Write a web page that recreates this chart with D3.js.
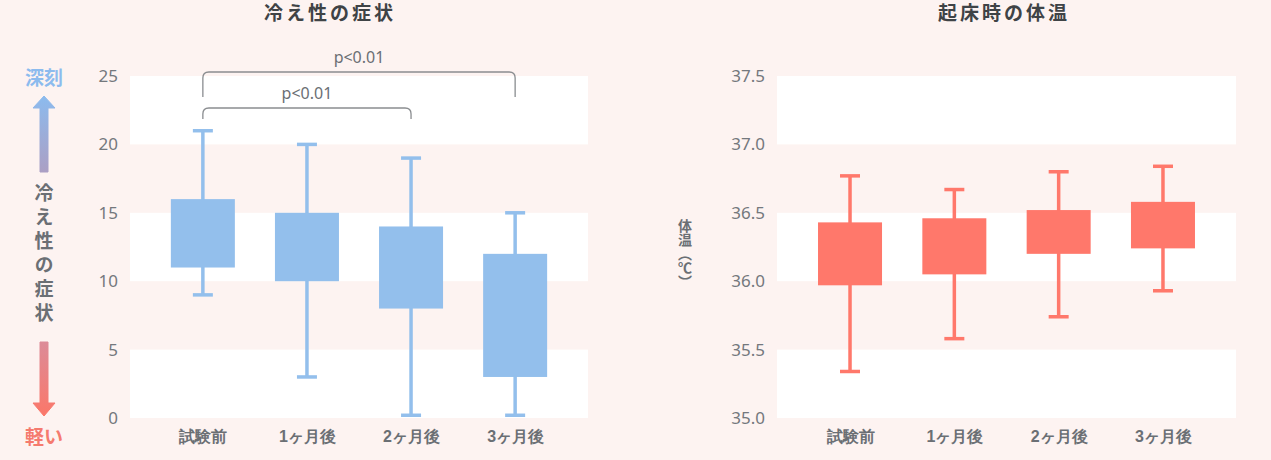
<!DOCTYPE html>
<html>
<head>
<meta charset="utf-8">
<script src="https://cdn.jsdelivr.net/npm/d3@7"></script>
<style>
  body { margin: 0; background: #fdf3f1; }
  svg { display: block; font-family: "Noto Sans CJK JP", "Noto Sans", sans-serif; }
</style>
</head>
<body>
<div id="chart"></div>
<script>
// Categories (x axis)
const categories = ["試験前", "1ヶ月後", "2ヶ月後", "3ヶ月後"];

// Left chart: cold symptom score (whisker low, box low, box high, whisker high)
const symptomLow    = [9, 3, 0.2, 0.2];
const symptomQ1     = [11, 10, 8, 3];
const symptomQ3     = [16, 15, 14, 12];
const symptomHigh   = [21, 20, 19, 15];
const symptomTicks  = [0, 5, 10, 15, 20, 25];

// Right chart: waking body temperature
const tempLow   = [35.34, 35.58, 35.74, 35.93];
const tempQ1    = [35.97, 36.05, 36.20, 36.24];
const tempQ3    = [36.43, 36.46, 36.52, 36.58];
const tempHigh  = [36.77, 36.67, 36.80, 36.84];
const tempTicks = [35.0, 35.5, 36.0, 36.5, 37.0, 37.5];

// Significance brackets (from index, to index, label)
const brackets = [
    { from: 0, to: 3, label: "p<0.01", level: 0 },
    { from: 0, to: 2, label: "p<0.01", level: 1 }
];

const W = 1271, H = 460;
const bg = "#fdf3f1";

const svg = d3.select("#chart").append("svg")
    .attr("width", W)
    .attr("height", H);

svg.append("rect").attr("width", W).attr("height", H).attr("fill", bg);

const plotTop = 76, plotBottom = 418;

function drawPanel(opts) {
    const g = svg.append("g");
    const x = d3.scalePoint()
        .domain(categories)
        .range([opts.x0, opts.x1])
        .padding(0.7);
    const y = d3.scaleLinear()
        .domain(opts.domain)
        .range([plotBottom, plotTop]);

    // alternating bands
    const t = opts.ticks;
    for (let i = 0; i < t.length - 1; i++) {
        if (i % 2 === 0) {
            g.append("rect")
                .attr("x", opts.x0)
                .attr("width", opts.x1 - opts.x0)
                .attr("y", y(t[i + 1]))
                .attr("height", y(t[i]) - y(t[i + 1]))
                .attr("fill", "#ffffff");
        }
    }

    // y axis labels
    const yAxis = g.append("g")
        .attr("transform", `translate(${opts.x0 - 12},0)`)
        .call(d3.axisLeft(y).tickValues(t).tickSize(0).tickPadding(0).tickFormat(opts.fmt));
    yAxis.select(".domain").remove();
    yAxis.selectAll("text")
        .attr("fill", "#74787d")
        .attr("font-size", "17px")
        .attr("font-family", "'Noto Sans', sans-serif");

    // x axis labels
    const xAxis = g.append("g")
        .attr("transform", `translate(0,${plotBottom + 10})`)
        .call(d3.axisBottom(x).tickSize(0).tickPadding(0));
    xAxis.select(".domain").remove();
    xAxis.selectAll("text")
        .attr("fill", "#6b6f74")
        .attr("font-size", "16px")
        .attr("font-weight", "600")
        .attr("dy", "0.85em");

    const data = categories.map((c, i) => ({
        c, lo: opts.lo[i], q1: opts.q1[i], q3: opts.q3[i], hi: opts.hi[i]
    }));
    const boxW = 64, capW = 20;

    const item = g.selectAll(".box").data(data).enter().append("g").attr("class", "box");
    item.append("line")
        .attr("x1", d => x(d.c)).attr("x2", d => x(d.c))
        .attr("y1", d => y(d.lo)).attr("y2", d => y(d.hi))
        .attr("stroke", opts.color).attr("stroke-width", 3.5);
    item.append("line")
        .attr("x1", d => x(d.c) - capW / 2).attr("x2", d => x(d.c) + capW / 2)
        .attr("y1", d => y(d.hi)).attr("y2", d => y(d.hi))
        .attr("stroke", opts.color).attr("stroke-width", 3.5);
    item.append("line")
        .attr("x1", d => x(d.c) - capW / 2).attr("x2", d => x(d.c) + capW / 2)
        .attr("y1", d => y(d.lo)).attr("y2", d => y(d.lo))
        .attr("stroke", opts.color).attr("stroke-width", 3.5);
    item.append("rect")
        .attr("x", d => x(d.c) - boxW / 2)
        .attr("width", boxW)
        .attr("y", d => y(d.q3))
        .attr("height", d => y(d.q1) - y(d.q3))
        .attr("fill", opts.color);

    // title
    svg.append("text")
        .attr("x", opts.titleX)
        .attr("y", 20)
        .attr("text-anchor", "middle")
        .attr("font-size", "19px")
        .attr("font-weight", "bold")
        .attr("letter-spacing", "3px")
        .attr("fill", "#3f4346")
        .text(opts.title);

    return { x, y };
}

const left = drawPanel({
    x0: 130, x1: 588, domain: [0, 25], ticks: symptomTicks, fmt: d3.format("d"),
    lo: symptomLow, q1: symptomQ1, q3: symptomQ3, hi: symptomHigh,
    color: "#93bfec", title: "冷え性の症状", titleX: 330
});

const right = drawPanel({
    x0: 777, x1: 1236, domain: [35, 37.5], ticks: tempTicks, fmt: d3.format(".1f"),
    lo: tempLow, q1: tempQ1, q3: tempQ3, hi: tempHigh,
    color: "#ff786b", title: "起床時の体温", titleX: 1004
});

// significance brackets
const bracketY = [72, 108], bracketDrop = [25, 11], r = 6;
brackets.forEach(b => {
    const x1 = left.x(categories[b.from]), x2 = left.x(categories[b.to]);
    const yy = bracketY[b.level], drop = bracketDrop[b.level];
    svg.append("path")
        .attr("d", `M${x1},${yy + drop} V${yy + r} Q${x1},${yy} ${x1 + r},${yy} H${x2 - r} Q${x2},${yy} ${x2},${yy + r} V${yy + drop}`)
        .attr("fill", "none")
        .attr("stroke", "#8a8d90")
        .attr("stroke-width", 1.3);
    svg.append("text")
        .attr("x", (x1 + x2) / 2)
        .attr("y", yy - 9)
        .attr("text-anchor", "middle")
        .attr("font-size", "16px")
        .attr("font-family", "'Noto Sans', sans-serif")
        .attr("fill", "#6b6f74")
        .text(b.label);
});

// left side annotation: arrows and vertical label
const defs = svg.append("defs");
const gUp = defs.append("linearGradient").attr("id", "gUp").attr("x1", 0).attr("x2", 0).attr("y1", 0).attr("y2", 1);
gUp.append("stop").attr("offset", "0%").attr("stop-color", "#8cbbee");
gUp.append("stop").attr("offset", "100%").attr("stop-color", "#ab9fc4");
const gDown = defs.append("linearGradient").attr("id", "gDown").attr("x1", 0).attr("x2", 0).attr("y1", 0).attr("y2", 1);
gDown.append("stop").attr("offset", "0%").attr("stop-color", "#dc8b98");
gDown.append("stop").attr("offset", "100%").attr("stop-color", "#fb7769");

const ax = 44;
svg.append("text")
    .attr("x", ax).attr("y", 85)
    .attr("text-anchor", "middle")
    .attr("font-size", "19px").attr("font-weight", "bold")
    .attr("fill", "#8cbbee")
    .text("深刻");
svg.append("path")
    .attr("d", `M${ax - 4},172 V108 H${ax - 11} L${ax},96 L${ax + 11},108 H${ax + 4} V172 Z`)
    .attr("fill", "url(#gUp)")
    .attr("stroke", "url(#gUp)").attr("stroke-width", 1).attr("stroke-linejoin", "round");
svg.append("path")
    .attr("d", `M${ax - 4},342 V403 H${ax - 11} L${ax},416 L${ax + 11},403 H${ax + 4} V342 Z`)
    .attr("fill", "url(#gDown)")
    .attr("stroke", "url(#gDown)").attr("stroke-width", 1).attr("stroke-linejoin", "round");
svg.append("text")
    .attr("x", ax).attr("y", 444)
    .attr("text-anchor", "middle")
    .attr("font-size", "19px").attr("font-weight", "bold")
    .attr("fill", "#f57a6e")
    .text("軽い");

// vertical label (one text, vertical writing)
svg.append("text")
    .attr("x", ax).attr("y", 183)
    .style("writing-mode", "vertical-rl")
    .attr("font-size", "19px").attr("font-weight", "bold")
    .attr("letter-spacing", "5px")
    .attr("fill", "#6b6f74")
    .text("冷え性の症状");

// right y-axis title, vertical: 体温（℃）
svg.append("text")
    .attr("x", 685).attr("y", 219)
    .style("writing-mode", "vertical-rl")
    .attr("font-size", "14px").attr("font-weight", "bold")
    .attr("fill", "#6b6f74")
    .text("体温（℃）");
</script>
</body>
</html>
